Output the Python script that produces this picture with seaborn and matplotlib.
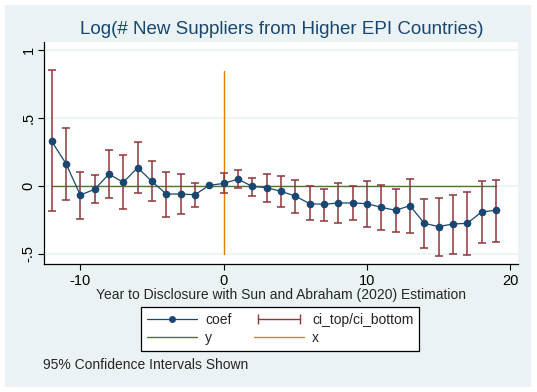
#import libraries
import numpy as np
import pandas as pd
import seaborn as sns
import matplotlib.pyplot as plt
from matplotlib.lines import Line2D
from matplotlib.patches import Rectangle
from matplotlib.legend_handler import HandlerLine2D

#event time and estimates
years = list(range(-12, 20))
coef = [0.331, 0.166, -0.066, -0.025, 0.088, 0.027, 0.135, 0.034, -0.059, -0.059,
        -0.064, 0.005, 0.019, 0.051, -0.003, -0.012, -0.039, -0.074, -0.130, -0.135,
        -0.125, -0.125, -0.130, -0.157, -0.179, -0.145, -0.275, -0.299, -0.280, -0.275,
        -0.191, -0.179]
ci_top = [0.853, 0.426, 0.103, 0.081, 0.265, 0.228, 0.324, 0.184, 0.103, 0.088,
          0.022, np.nan, 0.096, 0.118, 0.059, 0.088, 0.074, 0.044, -0.003, -0.022,
          0.022, 0.000, 0.037, 0.007, -0.022, 0.051, -0.098, -0.091, -0.066, -0.044,
          0.037, 0.044]
ci_bottom = [-0.184, -0.103, -0.243, -0.125, -0.088, -0.169, -0.051, -0.110, -0.226, -0.206,
             -0.154, np.nan, -0.051, -0.015, -0.074, -0.118, -0.154, -0.199, -0.250, -0.258,
             -0.272, -0.250, -0.302, -0.324, -0.338, -0.346, -0.456, -0.515, -0.500, -0.507,
             -0.419, -0.412]
x_line = [0, 0]
x_line_y = [-0.5, 0.85]
yticks = [-0.5, 0, 0.5, 1]
ytick_labels = ['-.5', '0', '.5', '1']
xticks = [-10, 0, 10, 20]
xtick_labels = ['-10', '0', '10', '20']

df = pd.DataFrame({'year': years, 'coef': coef, 'ci_top': ci_top, 'ci_bottom': ci_bottom})

navy = '#1a476f'
maroon = '#90353b'
green = '#55752f'
orange = '#e37e00'
bg = '#eaf2f3'

sns.set_style("white")
plt.rcParams['font.family'] = ['Liberation Sans', 'DejaVu Sans']
plt.rcParams['axes.unicode_minus'] = False

fig = plt.figure(figsize=(5.37, 3.92), dpi=100)
fig.patch.set_facecolor('white')
fig.patches.append(Rectangle((5/537, 5/392), 526/537, 382/392, transform=fig.transFigure,
                             facecolor=bg, edgecolor='none', zorder=-10))

ax = fig.add_axes([44/537, 128/392, 474/537, 222/392])
ax.set_facecolor('white')

#gridlines
for t in yticks:
    ax.axhline(t, color=bg, lw=1.2, zorder=0)

#reference lines
ax.plot([df.year.min(), df.year.max()], [0, 0], color=green, lw=1, zorder=1)
ax.plot(x_line, x_line_y, color=orange, lw=1, zorder=1)

#confidence intervals
ci = df.dropna()
ax.errorbar(ci.year, (ci.ci_top + ci.ci_bottom) / 2,
            yerr=(ci.ci_top - ci.ci_bottom) / 2, fmt='none',
            ecolor=maroon, elinewidth=1.1, capsize=2.7, capthick=1.1, zorder=2)

#coefficients
sns.lineplot(data=df, x='year', y='coef', ax=ax, color=navy, lw=0.9,
             marker='o', markersize=5.5, markeredgewidth=0, zorder=3)

ax.set_xlim(-12.53, 20.54)
ax.set_ylim(-0.575, 1.062)
ax.set_xticks(xticks)
ax.set_xticklabels(xtick_labels)
ax.set_yticks(yticks)
ax.set_yticklabels(ytick_labels, rotation=90, va='center')
ax.tick_params(axis='both', direction='out', length=4, width=0.8, color='black',
               labelsize=10.5, labelcolor='black', left=True, bottom=True)
ax.tick_params(axis='y', pad=2)
for s in ['top', 'right']:
    ax.spines[s].set_visible(False)
for s in ['left', 'bottom']:
    ax.spines[s].set_color('black')
    ax.spines[s].set_linewidth(0.9)

ax.set_xlabel('Year to Disclosure with Sun and Abraham (2020) Estimation', fontsize=10, labelpad=0)
ax.set_ylabel('')
fig.text(282/537, 1 - 30/392, 'Log(# New Suppliers from Higher EPI Countries)',
         ha='center', va='center', fontsize=13.5, color=navy)

#legend
h_coef = Line2D([], [], color=navy, lw=0.9, marker='o', markersize=5, markeredgewidth=0)
h_ci = Line2D([], [], color=maroon, lw=1, marker='|', markersize=7, markeredgewidth=1)
h_y = Line2D([], [], color=green, lw=1)
h_x = Line2D([], [], color=orange, lw=1)
leg = fig.legend([h_coef, h_y, h_ci, h_x], ['coef', 'y', 'ci_top/ci_bottom', 'x'],
                 ncol=2, loc='center', bbox_to_anchor=(280/537, 1 - 329/392),
                 frameon=True, fancybox=False, edgecolor='black', framealpha=1,
                 fontsize=10, handlelength=3.6, columnspacing=1.6, borderpad=0.4,
                 labelspacing=0.3, handletextpad=0.6,
                 handler_map={h_ci: HandlerLine2D(numpoints=2)})
leg.get_frame().set_linewidth(0.9)

fig.text(43/537, 1 - 365/392, '95% Confidence Intervals Shown', ha='left', va='center', fontsize=10)

plt.savefig('out.png', dpi=100)
